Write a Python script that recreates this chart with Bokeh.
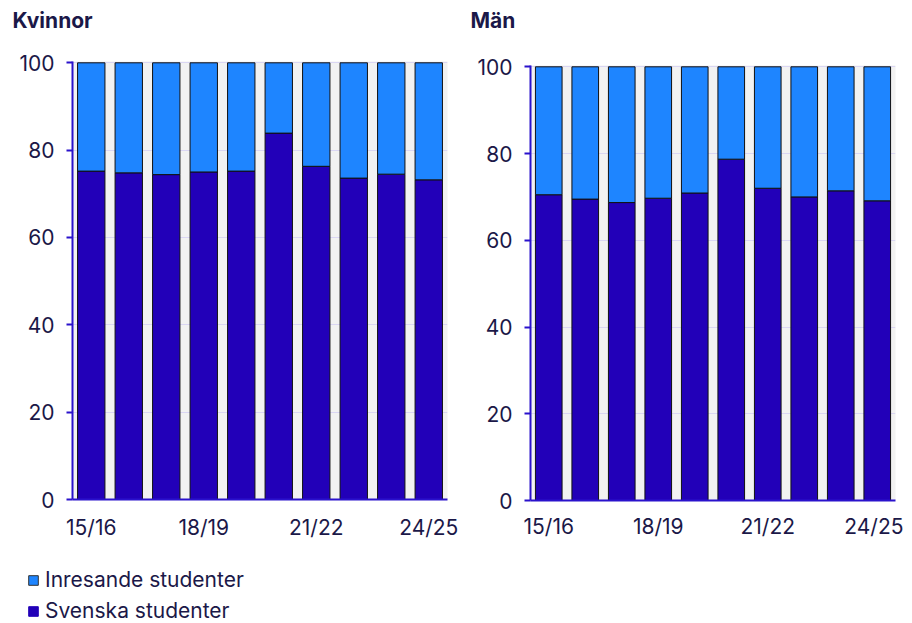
from bokeh.plotting import figure
from bokeh.layouts import row, column, Spacer
from bokeh.models import Legend, LegendItem, ColumnDataSource, FixedTicker, Range1d, Label
from bokeh.embed import file_html
from bokeh.resources import INLINE

years = ["15/16", "16/17", "17/18", "18/19", "19/20", "20/21", "21/22", "22/23", "23/24", "24/25"]
shown_years = ["15/16", "18/19", "21/22", "24/25"]
y_ticks = [0, 20, 40, 60, 80, 100]
panel_titles = ["Kvinnor", "Män"]
series_names = ["Inresande studenter", "Svenska studenter"]

kvinnor_svenska = [75.2, 74.8, 74.4, 75.0, 75.2, 83.9, 76.3, 73.6, 74.5, 73.2]
kvinnor_inresande = [24.8, 25.2, 25.6, 25.0, 24.8, 16.1, 23.7, 26.4, 25.5, 26.8]
man_svenska = [70.5, 69.5, 68.7, 69.7, 70.9, 78.7, 72.0, 70.0, 71.4, 69.1]
man_inresande = [29.5, 30.5, 31.3, 30.3, 29.1, 21.3, 28.0, 30.0, 28.6, 30.9]

DARK = "#2200B8"
LIGHT = "#1E85FF"
AXIS = "#2A12CC"
TEXT = "#1B1848"
FONT = "Inter"
FS = "21px"

xpos = list(range(len(years)))


def make_panel(svenska, inresande, frame_w, frame_h, mb_left, mb_right, mb_top, mb_bottom, xstand):
    src = ColumnDataSource(dict(x=xpos, svenska=svenska, inresande=inresande))
    p = figure(x_range=Range1d(-0.5, len(years) - 0.5), y_range=Range1d(0, 100.3),
               frame_width=frame_w, frame_height=frame_h,
               min_border_left=mb_left, min_border_right=mb_right,
               min_border_top=mb_top, min_border_bottom=mb_bottom,
               output_backend="svg", toolbar_location=None, tools="")
    rs = p.vbar_stack(["svenska", "inresande"], x="x", width=0.73, source=src,
                      color=[DARK, LIGHT], line_color="#111111", line_width=1)
    p.background_fill_color = "#F2F2F2"
    p.border_fill_color = "white"
    p.outline_line_color = None
    p.xgrid.grid_line_color = None
    p.ygrid.grid_line_color = "#DAD6F3"
    p.ygrid.grid_line_width = 1
    p.yaxis.ticker = FixedTicker(ticks=y_ticks)
    p.xaxis.ticker = FixedTicker(ticks=[years.index(y) for y in shown_years])
    p.xaxis.major_label_overrides = {years.index(y): y for y in shown_years}
    for ax in (p.xaxis[0], p.yaxis[0]):
        ax.axis_line_color = AXIS
        ax.axis_line_width = 2
        ax.major_label_text_font = FONT
        ax.major_label_text_font_size = FS
        ax.major_label_text_color = TEXT
        ax.minor_tick_line_color = None
    p.yaxis.major_tick_line_color = AXIS
    p.yaxis.major_tick_line_width = 2
    p.yaxis.major_tick_in = 0
    p.yaxis.major_tick_out = 6
    p.yaxis.major_label_standoff = 12
    p.xaxis.major_tick_line_color = None
    p.xaxis.major_tick_out = 0
    p.xaxis.major_tick_in = 0
    p.xaxis.major_label_standoff = xstand
    return p, rs


left, rl = make_panel(kvinnor_svenska, kvinnor_inresande, 375, 438, 72, 12, 25, 40, 15)
right, rr = make_panel(man_svenska, man_inresande, 365, 435, 71, 8, 25, 37, 13)

# title strip
ts = figure(x_range=Range1d(0, 1), y_range=Range1d(0, 1), frame_width=903, frame_height=36,
            min_border=0, output_backend="svg", toolbar_location=None, tools="")
ts.axis.visible = False
ts.grid.visible = False
ts.outline_line_color = None
for t, sx in zip(panel_titles, [12, 470]):
    ts.add_layout(Label(x=sx, y=16, x_units="screen", y_units="screen", text=t,
                        text_font=FONT, text_font_size=FS, text_font_style="bold",
                        text_color=TEXT, text_baseline="middle", text_align="left"))

# legend strip (proxy renderers lie outside the visible range)
lg = figure(x_range=Range1d(0, 1), y_range=Range1d(0, 1), frame_width=700, frame_height=84,
            min_border=0, output_backend="svg", toolbar_location=None, tools="")
lg.axis.visible = False
lg.grid.visible = False
lg.outline_line_color = None
proxy = ColumnDataSource(dict(x=[-5], top=[-5]))
r_inr = lg.vbar(x="x", top="top", width=0.1, source=proxy, fill_color=LIGHT, line_color="#333333")
r_sv = lg.vbar(x="x", top="top", width=0.1, source=proxy, fill_color=DARK, line_color=DARK)
legend = Legend(items=[LegendItem(label=series_names[0], renderers=[r_inr]),
                       LegendItem(label=series_names[1], renderers=[r_sv])],
                location=(27, 3), orientation="vertical",
                label_text_font=FONT, label_text_font_size=FS, label_text_color=TEXT,
                glyph_width=12, glyph_height=12, label_height=22, spacing=6,
                label_standoff=6, padding=0, margin=0,
                border_line_color=None, background_fill_alpha=0)
lg.add_layout(legend, "center")

layout = column(ts, row(left, column(Spacer(height=4), right)), lg)
open("out.html", "w").write(file_html(layout, INLINE))
